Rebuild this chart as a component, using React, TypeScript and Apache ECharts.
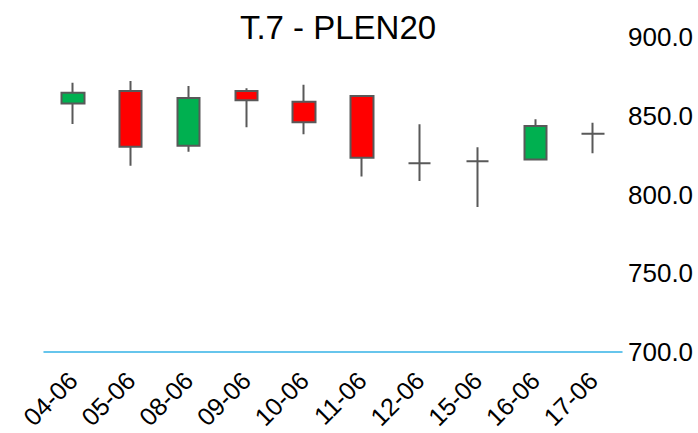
import React, { useEffect, useRef } from "react";
import * as echarts from "echarts";

const categories = ["04-06", "05-06", "08-06", "09-06", "10-06", "11-06", "12-06", "15-06", "16-06", "17-06"];
// [open, close, low, high]
const openValues = [857.7, 865.7, 831.0, 865.7, 858.9, 862.5, 819.8, 821.1, 822.3, 838.6];
const closeValues = [864.6, 830.3, 861.3, 859.8, 845.8, 823.4, 819.8, 821.1, 843.5, 838.6];
const lowValues = [844.8, 818.3, 827.2, 842.7, 838.2, 811.5, 808.6, 792.0, 821.7, 826.2];
const highValues = [871.0, 872.0, 868.9, 867.4, 869.7, 863.2, 844.6, 830.0, 847.7, 845.6];
const yTicks = [700, 750, 800, 850, 900];

export default function App() {
  const ref = useRef<HTMLDivElement>(null);
  useEffect(() => {
    if (!ref.current) return;
    const chart = echarts.init(ref.current, null, { renderer: "svg" });
    const data = categories.map((_, i) => [openValues[i], closeValues[i], lowValues[i], highValues[i]]);
    chart.setOption({
      animation: false,
      title: {
        text: "T.7 - PLEN20",
        left: 333,
        top: 6,
        textAlign: "center",
        textStyle: { fontFamily: "Liberation Sans, Arial", fontSize: 33, fontWeight: "normal", color: "#000" },
      },
      grid: { left: 44, right: 76, top: 37, bottom: 81, containLabel: false, outerBoundsMode: "none" },
      xAxis: {
        type: "category",
        data: categories,
        axisLine: { show: true, lineStyle: { color: "#35b2e6", width: 1.5 } },
        axisTick: { show: false },
        axisLabel: {
          rotate: 45,
          interval: 0,
          margin: 24,
          color: "#000",
          fontFamily: "Liberation Sans, Arial",
          fontSize: 25,
        },
        splitLine: { show: false },
      },
      yAxis: {
        type: "value",
        position: "right",
        min: yTicks[0],
        max: yTicks[yTicks.length - 1],
        interval: 50,
        axisLine: { show: false },
        axisTick: { show: false },
        splitLine: { show: false },
        axisLabel: {
          margin: 6,
          color: "#000",
          fontFamily: "Liberation Sans, Arial",
          fontSize: 26,
          formatter: (v: number) => v.toFixed(1),
        },
      },
      series: [
        {
          type: "candlestick",
          data,
          barWidth: 23,
          itemStyle: {
            color: "#00b050",
            color0: "#ff0000",
            borderColor: "#595959",
            borderColor0: "#595959",
            borderColorDoji: "#595959",
            borderWidth: 2,
          },
        },
      ],
    });
    return () => chart.dispose();
  }, []);
  return <div ref={ref} style={{ width: 698, height: 433, position: "absolute", left: 0, top: 0 }} />;
}
